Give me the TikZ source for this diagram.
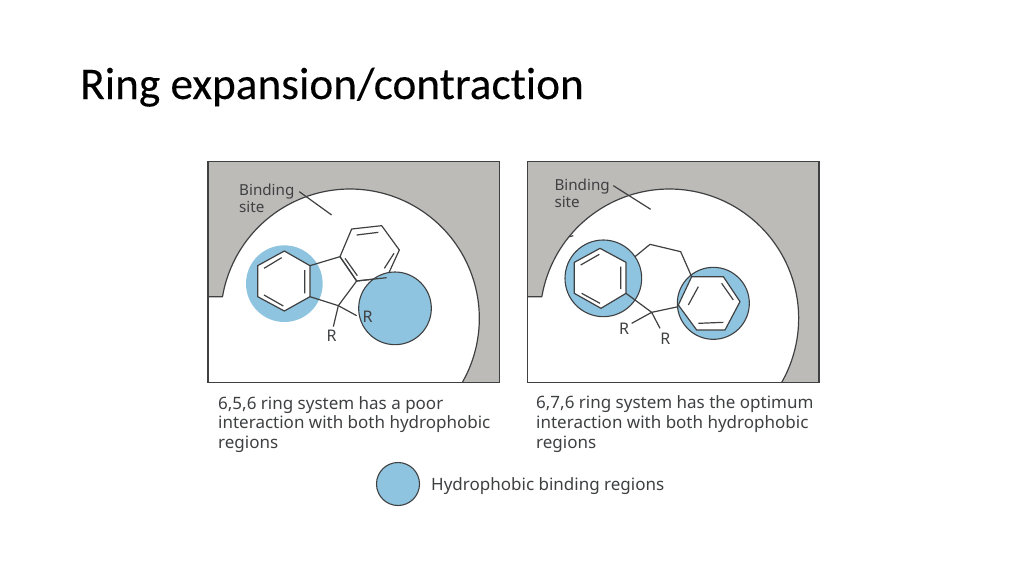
\documentclass[tikz,border=0pt]{standalone}
\usepackage{fontspec}
\setmainfont{Noto Sans}
\newfontfamily\titlefont[Ligatures=NoCommon,FakeBold=0.15]{Carlito}
\definecolor{sitegray}{HTML}{BDBBB8}
\definecolor{regionblue}{HTML}{8EC4DF}
\definecolor{inkdark}{HTML}{3F4042}
\tikzset{
  x=1pt,y=-1pt,
  framebox/.style={draw=inkdark,line width=1.2pt},
  region/.style={fill=regionblue,draw=inkdark,line width=1.1pt},
  bond/.style={draw=inkdark,line width=1.2pt,line join=round},
  sitetxt/.style={anchor=base west,inner sep=0pt,text=inkdark,font=\fontsize{15.2pt}{15pt}\selectfont},
  captxt/.style={anchor=base west,inner sep=0pt,text=inkdark,font=\fontsize{17pt}{15pt}\selectfont},
  rlabel/.style={inner sep=0pt,text=inkdark,font=\fontsize{16pt}{14pt}\selectfont},
  zoomed/.style={x=.33333pt,y=-.33333pt}
}
\begin{document}
\begin{tikzpicture}
\useasboundingbox[fill=white] (0,0) rectangle (1024,576);
\node[anchor=base west,inner sep=0pt,font=\titlefont\fontsize{45.3pt}{50pt}\selectfont,text=black] (title) at (80,99) {Ring expansion/contraction};
% left panel
\begin{scope}[xshift=200pt,yshift=-155pt,zoomed]
\fill[sitegray] (24,20) rectangle (898,683);
\fill[white] (24,683) -- (24,425) -- plot[smooth,samples=60,domain=170.36:-29.83] ({450+388*cos(\x)},{490-388*sin(\x)}) -- cycle;
\draw[bond] (24,425) -- plot[smooth,samples=60,domain=170.36:-29.83] ({450+388*cos(\x)},{490-388*sin(\x)});
\draw[framebox] (24,20) rectangle (898,683);
\draw[bond] (298,110) -- (395,180);
\node[sitetxt] (bind1) at (117,120) {Binding};
\node[sitetxt] (site1) at (117,171) {site};
\fill[regionblue] (253,386) circle[radius=115];
\draw[bond,fill=white] (253,288) -- (330,332) -- (330,425) -- (253,468) -- (173,425) -- (173,332) -- cycle;
\draw[bond,fill=white] (420,305) -- (455,222) -- (545,212) -- (598,285) -- (560,368) -- (470,378) -- cycle;
\draw[region] (585,460) circle[radius=109];
\draw[bond] (470,378) -- (560,368) (420,305) -- (470,378);
\draw[bond] (192,340) -- (245,308) (314,345) -- (314,415) (192,420) -- (250,453);
\draw[bond] (470,240) -- (535,232) (553,340) -- (582,295) (435,310) -- (472,362);
\draw[bond] (330,332) -- (420,305) (470,378) -- (415,452) -- (330,425);
\draw[bond] (415,452) -- (470,482) (415,452) -- (400,515);
\node[rlabel] (r1a) at (503,486) {R};
\node[rlabel] (r1b) at (395,541) {R};
\end{scope}
% right panel
\begin{scope}[xshift=520pt,yshift=-155pt,zoomed]
\fill[sitegray] (22,20) rectangle (897,683);
\fill[white] (22,683) -- (22,425) -- plot[smooth,samples=60,domain=170.36:-29.83] ({448+388*cos(\x)},{490-388*sin(\x)}) -- cycle;
\draw[bond] (22,425) -- plot[smooth,samples=60,domain=170.36:-29.83] ({448+388*cos(\x)},{490-388*sin(\x)});
\draw[framebox] (22,20) rectangle (897,683);
\draw[bond] (280,92) -- (392,163);
\draw[bond] (148,245) -- (160,242);
\node[sitetxt] (bind2) at (103,105) {Binding};
\node[sitetxt] (site2) at (103,157) {site};
\draw[region] (250,370) circle[radius=115];
\draw[region] (580,445) circle[radius=108];
\draw[bond,fill=white] (240,280) -- (318,322) -- (318,415) -- (243,460) -- (163,415) -- (163,322) -- cycle;
\draw[bond,fill=white] (515,365) -- (610,365) -- (660,440) -- (615,525) -- (530,525) -- (475,450) -- cycle;
\draw[bond] (182,330) -- (238,298) (302,335) -- (302,402) (185,415) -- (240,445);
\draw[bond] (505,450) -- (535,395) (605,385) -- (640,435) (535,505) -- (610,502);
\draw[bond] (345,305) -- (390,268) -- (482,290) -- (515,365);
\draw[bond] (318,415) -- (395,472) -- (475,455);
\draw[bond] (395,472) -- (335,505) (395,472) -- (420,520);
\node[rlabel] (r2a) at (312,522) {R};
\node[rlabel] (r2b) at (436,552) {R};
\end{scope}
% captions
\node[captxt] (c1a) at (218,409) {6,5,6 ring system has a poor};
\node[captxt] (c1b) at (218,428) {interaction with both hydrophobic};
\node[captxt] (c1c) at (218,448) {regions};
\node[captxt] (c2a) at (536,408) {6,7,6 ring system has the optimum};
\node[captxt] (c2b) at (536,428) {interaction with both hydrophobic};
\node[captxt] (c2c) at (536,448) {regions};
\draw[region] (398,484) circle[radius=21.5];
\node[captxt] (leg) at (431,490) {Hydrophobic binding regions};
\end{tikzpicture}
\end{document}
